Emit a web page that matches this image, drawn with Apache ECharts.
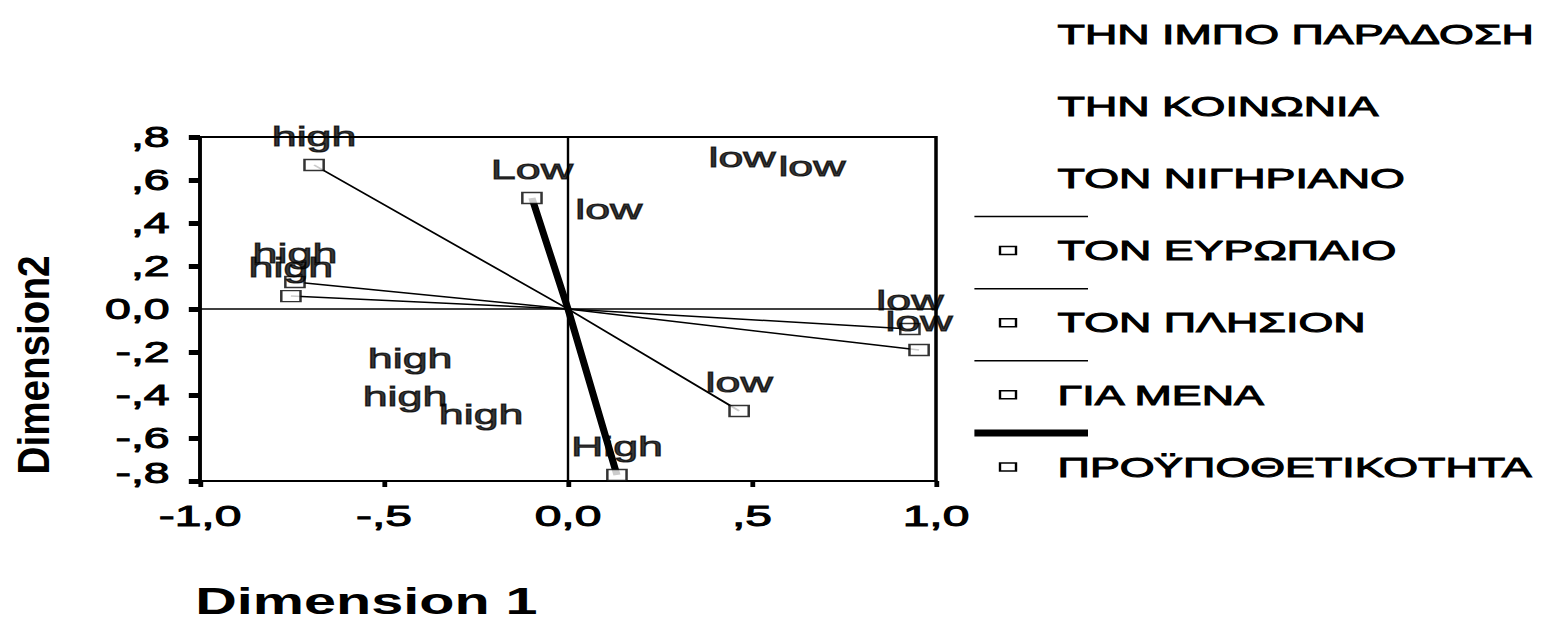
<!DOCTYPE html>
<html><head><meta charset="utf-8">
<script src="https://cdn.jsdelivr.net/npm/echarts@6/dist/echarts.min.js"></script>
<style>
html,body{margin:0;padding:0;background:#fff;overflow:hidden}
#c{width:968px;height:621px;transform:scaleX(1.6);transform-origin:0 0;}
</style>
</head><body><div id="c"></div>
<script>
// ---------------- data ----------------
const variables = ['ΤΗΝ ΙΜΠΟ ΠΑΡΑΔΟΣΗ', 'ΤΗΝ ΚΟΙΝΩΝΙΑ', 'ΤΟΝ ΝΙΓΗΡΙΑΝΟ', 'ΤΟΝ ΕΥΡΩΠΑΙΟ', 'ΤΟΝ ΠΛΗΣΙΟΝ', 'ΓΙΑ ΜΕΝΑ', 'ΠΡΟΫΠΟΘΕΤΙΚΟΤΗΤΑ'];
const categoryLabels = [
  ['high', 'low'], ['high', 'low'], ['high', 'low'],
  ['high', 'low'], ['high', 'low'], ['high', 'low'], ['Low', 'High']
];
const dim1 = [
  [-0.429, 0.473], [-0.443, 0.663], [-0.236, 0.111],
  [-0.690, 0.465], [-0.742, 0.954], [-0.753, 0.929], [-0.098, 0.133]
];
const dim2 = [
  [-0.363, 0.572], [-0.540, 0.530], [-0.623, 0.330],
  [0.670, -0.474], [0.126, -0.191], [0.060, -0.093], [0.516, -0.772]
];
const origin = [0, 0];
const xTickValues = [-1, -0.5, 0, 0.5, 1];
const xTickLabels = ['-1,0', '-,5', '0,0', ',5', '1,0'];
const yTickValues = [-0.8, -0.6, -0.4, -0.2, 0, 0.2, 0.4, 0.6, 0.8];
const yTickLabels = ['-,8', '-,6', '-,4', '-,2', '0,0', ',2', ',4', ',6', ',8'];
const xTitle = 'Dimension 1';
const yTitle = 'Dimension2';

// ---------------- styles ----------------
const S = 1.6; // horizontal stretch of the whole picture
const FONT = "'Liberation Sans', Arial, sans-serif";
const vectorWidth = [0, 0, 0, 1.5, 1.5, 1.5, 4.5];
const legendLineWidth = [0, 0, 0, 1.5, 1.5, 1.5, 7];
const HEAVY = { textBorderColor: '#000', textBorderWidth: 1 };

function tickLabel(values, labels, v) {
  const i = values.findIndex(t => Math.abs(t - v) < 1e-6);
  return i >= 0 ? labels[i] : '';
}

const series = [];
variables.forEach((name, i) => {
  const visible = vectorWidth[i] > 0;
  const pts = [0, 1].map(k => ({ name: categoryLabels[i][k], value: [dim1[i][k], dim2[i][k]] }));
  if (visible) {
    series.push({
      type: 'line', name: name + ' vector', silent: true, z: 2,
      data: [pts[0].value, origin, pts[1].value],
      showSymbol: false, symbol: 'none',
      lineStyle: { color: '#000', width: vectorWidth[i] }
    });
  }
  const s = {
    type: 'scatter', name: name, z: 3,
    data: pts,
    symbol: 'rect', symbolSize: [12, 11],
    itemStyle: visible ? { color: '#fff', borderColor: '#000', borderWidth: 1.5 }
                       : { color: 'rgba(0,0,0,0)', borderWidth: 0 },
    label: Object.assign({
      show: true, position: 'inside', offset: [0, -29],
      formatter: p => p.data.name,
      fontFamily: FONT, fontSize: 28, color: '#000'
    }, HEAVY)
  };
  if (i === 0) {
    s.markLine = {
      silent: true, symbol: ['none', 'none'], label: { show: false },
      lineStyle: { color: '#000', width: 1.5, type: 'solid' },
      data: [{ xAxis: 0 }, { yAxis: 0 }]
    };
  }
  series.push(s);
});

// legend drawn as graphic
const legendX = 661, legendTop = 34, legendStep = 72.17;
const graphic = [];
variables.forEach((name, i) => {
  const y = legendTop + i * legendStep;
  graphic.push({
    type: 'text', x: legendX, y: y,
    style: { text: name, fontFamily: FONT, fontSize: 28, fill: '#000', stroke: '#000', lineWidth: 1, align: 'left', verticalAlign: 'middle' }
  });
  if (legendLineWidth[i] > 0) {
    graphic.push({
      type: 'line', shape: { x1: 609, y1: y - 34, x2: 680, y2: y - 34 },
      style: { stroke: '#000', lineWidth: legendLineWidth[i] }
    });
    graphic.push({
      type: 'rect', shape: { x: 625, y: y - 4, width: 10, height: 8 },
      style: { fill: '#fff', stroke: '#000', lineWidth: 1.5 }
    });
  }
});
graphic.push({
  type: 'text', x: 122, y: 602,
  style: { text: xTitle, fontFamily: FONT, fontWeight: 'bold', fontSize: 36, fill: '#000', align: 'left', verticalAlign: 'middle' }
});
graphic.push({
  type: 'text', x: 21, y: 365, rotation: Math.PI / 2, scaleX: 1.38,
  style: { text: yTitle, fontFamily: FONT, fontWeight: 'bold', fontSize: 28, fill: '#000', align: 'center', verticalAlign: 'middle' }
});

const chart = echarts.init(document.getElementById('c'), null, { renderer: 'svg' });
chart.setOption({
  animation: false,
  backgroundColor: '#fff',
  grid: { left: 200 / S, top: 137, width: 736 / S, height: 344, show: true, borderColor: '#000', borderWidth: 2.2, containLabel: false },
  xAxis: {
    type: 'value', min: -1, max: 1, interval: 0.5,
    axisLine: { show: true, onZero: false, lineStyle: { color: '#000', width: 2.2 } },
    axisTick: { show: true, inside: false, length: 6, lineStyle: { color: '#000', width: 3 } },
    axisLabel: Object.assign({ formatter: v => tickLabel(xTickValues, xTickLabels, v), fontFamily: FONT, fontSize: 30, color: '#000', margin: 20, showMinLabel: true, showMaxLabel: true, hideOverlap: false }, HEAVY),
    splitLine: { show: false }
  },
  yAxis: {
    type: 'value', min: -0.8, max: 0.8, interval: 0.2,
    axisLine: { show: true, onZero: false, lineStyle: { color: '#000', width: 2.2 } },
    axisTick: { show: true, inside: false, length: 7, lineStyle: { color: '#000', width: 5 } },
    axisLabel: Object.assign({
      formatter: v => {
        const t = tickLabel(yTickValues, yTickLabels, v);
        return Math.abs(v - yTickValues[0]) < 1e-6 ? '{up|' + t + '}' : t;
      },
      rich: { up: Object.assign({ fontFamily: FONT, fontSize: 29, color: '#000', padding: [0, 0, 16, 0] }, HEAVY) },
      fontFamily: FONT, fontSize: 29, color: '#000', margin: 19,
      showMinLabel: true, showMaxLabel: true, hideOverlap: false
    }, HEAVY),
    splitLine: { show: false }
  },
  graphic: graphic,
  series: series
});
</script>
</body></html>
